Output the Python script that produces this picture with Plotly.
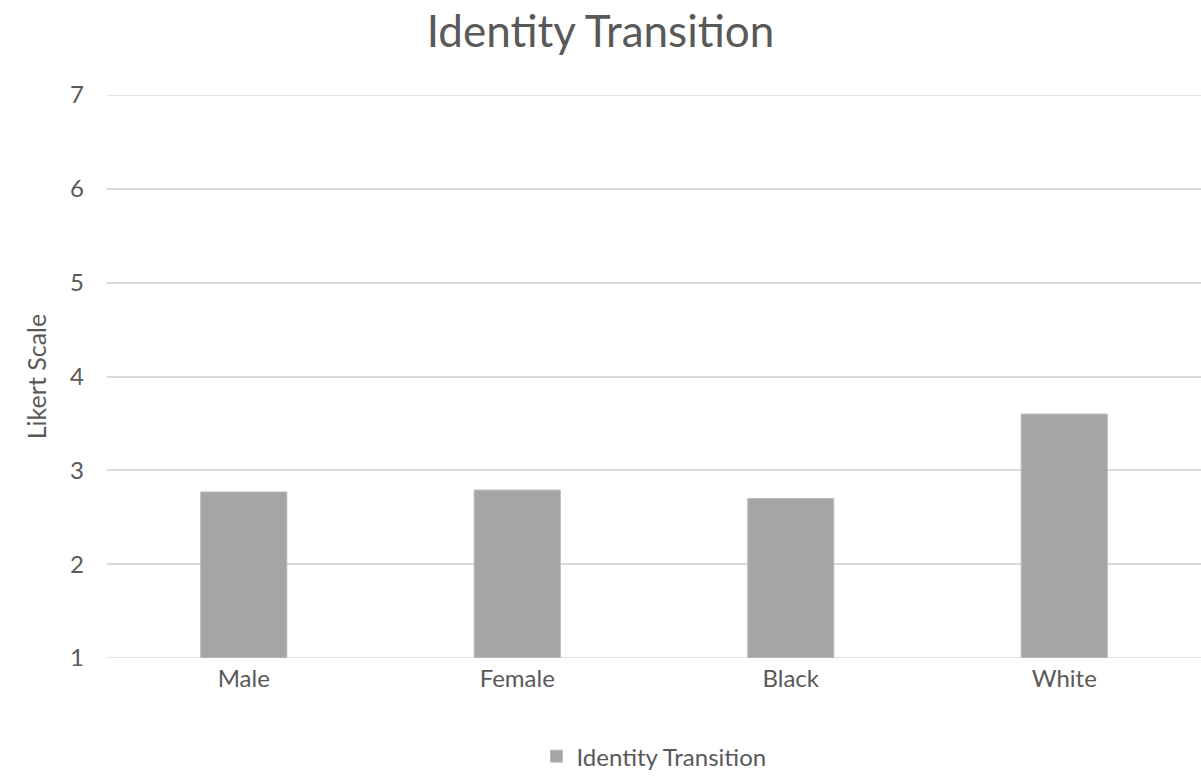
import plotly.graph_objects as go

categories = ["Male", "Female", "Black", "White"]
values = [2.77, 2.79, 2.70, 3.60]
series_name = "Identity Transition"
y_ticks = [1, 2, 3, 4, 5, 6, 7]

FONT = "Lato"
TXT = "#595959"
GRID = "#D9D9D9"

fig = go.Figure()
fig.add_trace(go.Bar(
    x=categories, y=[v - 1 for v in values], base=1, name=series_name,
    hovertext=[str(v) for v in values],
    marker=dict(color="#A5A5A5", line=dict(color="#BDBDBD", width=1)),
    width=0.315,
))

for yv in (y_ticks[0], y_ticks[-1]):
    fig.add_shape(type="line", xref="paper", yref="y", x0=0, x1=1, y0=yv, y1=yv,
                  line=dict(color=GRID, width=1.5), layer="below")

fig.update_layout(
    width=1201, height=780,
    margin=dict(l=107, r=0, t=95, b=122),
    paper_bgcolor="white", plot_bgcolor="white",
    font=dict(family=FONT, color=TXT, size=23),
    title=dict(text="Identity Transition", x=0.5, xanchor="center", y=0.959, yanchor="middle",
               font=dict(family=FONT, size=44, color=TXT)),
    showlegend=True,
    legend=dict(orientation="h", x=0.5, xanchor="center", y=-0.175, yanchor="middle",
                font=dict(family=FONT, size=24, color=TXT), itemwidth=30),
)
fig.update_xaxes(showgrid=False, showline=False, ticks="", tickfont=dict(size=24, color=TXT),
                 ticklabelstandoff=4)
fig.update_yaxes(range=[1, 7], tickvals=y_ticks, showgrid=True, gridcolor=GRID, gridwidth=1.5,
                 zeroline=False, showline=False, ticks="", ticklabelstandoff=22,
                 tickfont=dict(size=24, color=TXT),
                 title=dict(text="Likert Scale", font=dict(size=25, color=TXT), standoff=16))

fig.write_html("out.html")
